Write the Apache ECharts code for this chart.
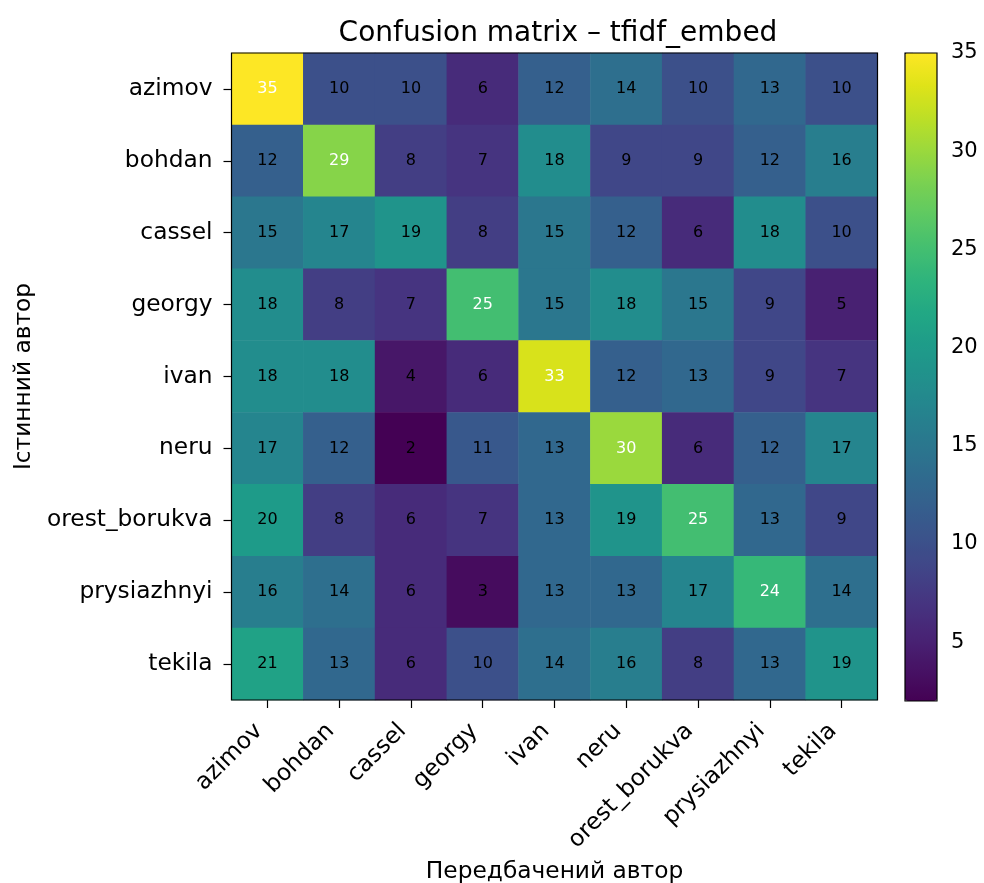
<!DOCTYPE html>
<html>
<head>
<meta charset="utf-8">
<script src="https://cdn.jsdelivr.net/npm/echarts@6/dist/echarts.min.js"></script>
<style>
html,body{margin:0;padding:0;background:#fff;}
#c{width:984px;height:883px;}
</style>
</head>
<body>
<div id="c"></div>
<script>
// ---- data ----
const authors = ['azimov','bohdan','cassel','georgy','ivan','neru','orest_borukva','prysiazhnyi','tekila'];
const rowAzimov      = [35,10,10, 6,12,14,10,13,10];
const rowBohdan      = [12,29, 8, 7,18, 9, 9,12,16];
const rowCassel      = [15,17,19, 8,15,12, 6,18,10];
const rowGeorgy      = [18, 8, 7,25,15,18,15, 9, 5];
const rowIvan        = [18,18, 4, 6,33,12,13, 9, 7];
const rowNeru        = [17,12, 2,11,13,30, 6,12,17];
const rowOrest       = [20, 8, 6, 7,13,19,25,13, 9];
const rowPrysiazhnyi = [16,14, 6, 3,13,13,17,24,14];
const rowTekila      = [21,13, 6,10,14,16, 8,13,19];
const colorbarTicks  = [5,10,15,20,25,30,35];
const titleText = 'Confusion matrix – tfidf_embed';
const xName = 'Передбачений автор';
const yName = 'Істинний автор';

const matrix = [rowAzimov,rowBohdan,rowCassel,rowGeorgy,rowIvan,rowNeru,rowOrest,rowPrysiazhnyi,rowTekila];
let vmin = Infinity, vmax = -Infinity;
matrix.forEach(r => r.forEach(v => { vmin = Math.min(vmin, v); vmax = Math.max(vmax, v); }));
const whiteAbove = 23;
const heatData = [];
matrix.forEach((row, i) => row.forEach((v, j) => {
  heatData.push({ value: [j, i, v], label: { color: v > whiteAbove ? '#ffffff' : '#000000' } });
}));

const viridis = ['#440154','#471365','#482475','#463480','#414487','#3b528b','#355f8d','#2f6c8e','#2a788e','#25848e','#21918c','#1e9c89','#22a884','#2fb47c','#44bf70','#5ec962','#7ad151','#9bd93c','#bddf26','#dfe318','#fde725'];

const FONT = 'DejaVu Sans';
const chart = echarts.init(document.getElementById('c'), null, { renderer: 'canvas' });
chart.setOption({
  animation: false,
  backgroundColor: '#ffffff',
  title: {
    text: titleText, left: 553, top: 15, textAlign: 'center',
    textStyle: { fontFamily: FONT, fontSize: 28, fontWeight: 'normal', color: '#000' }
  },
  grid: [
    { left: 231.5, top: 53, width: 646, height: 647, show: true, borderColor: '#000', borderWidth: 1.2, backgroundColor: 'transparent', z: 10, containLabel: false, outerBoundsMode: 'none' },
    { left: 905, top: 53, width: 32, height: 648, show: true, borderColor: '#000', borderWidth: 1.2, backgroundColor: 'transparent', z: 10, containLabel: false, outerBoundsMode: 'none' }
  ],
  xAxis: [
    {
      type: 'category', data: authors, gridIndex: 0, position: 'bottom',
      axisLine: { show: false },
      axisTick: { show: true, alignWithLabel: true, length: 8, lineStyle: { color: '#000', width: 1.2 } },
      axisLabel: { rotate: 45, margin: 19, padding: [0, 12, 0, 0], fontFamily: FONT, fontSize: 23.3, color: '#000', interval: 0 },
      splitLine: { show: false },
      name: xName, nameLocation: 'middle', nameGap: 160,
      nameTextStyle: { fontFamily: FONT, fontSize: 23.3, color: '#000' }
    },
    { type: 'value', gridIndex: 1, show: false, min: 0, max: 1 }
  ],
  yAxis: [
    {
      type: 'category', data: authors, gridIndex: 0, inverse: true,
      axisLine: { show: false },
      axisTick: { show: true, alignWithLabel: true, length: 8, lineStyle: { color: '#000', width: 1.2 } },
      axisLabel: { margin: 19, fontFamily: FONT, fontSize: 23.3, color: '#000', interval: 0 },
      splitLine: { show: false },
      name: yName, nameLocation: 'middle', nameGap: 196, nameRotate: 90,
      nameTextStyle: { fontFamily: FONT, fontSize: 23.3, color: '#000' }
    },
    {
      type: 'value', gridIndex: 1, position: 'right', min: vmin, max: vmax,
      axisLine: { show: false },
      axisTick: { show: true, length: 8, customValues: colorbarTicks, lineStyle: { color: '#000', width: 1.2 } },
      axisLabel: { margin: 14, fontFamily: FONT, fontSize: 21, color: '#000', customValues: colorbarTicks },
      splitLine: { show: false }
    }
  ],
  visualMap: {
    type: 'continuous', min: vmin, max: vmax, dimension: 2, seriesIndex: 0,
    calculable: false, hoverLink: false, orient: 'vertical',
    left: 905, top: 53, itemWidth: 32, itemHeight: 648, padding: 0,
    text: null, showLabel: false,
    inRange: { color: viridis }
  },
  series: [
    {
      type: 'heatmap', xAxisIndex: 0, yAxisIndex: 0, data: heatData,
      label: { show: true, fontFamily: FONT, fontSize: 16, formatter: p => String(p.value[2]) },
      itemStyle: { borderWidth: 0 },
      emphasis: { disabled: true }
    },
    { type: 'scatter', xAxisIndex: 1, yAxisIndex: 1, data: [], silent: true }
  ]
});
</script>
</body>
</html>
